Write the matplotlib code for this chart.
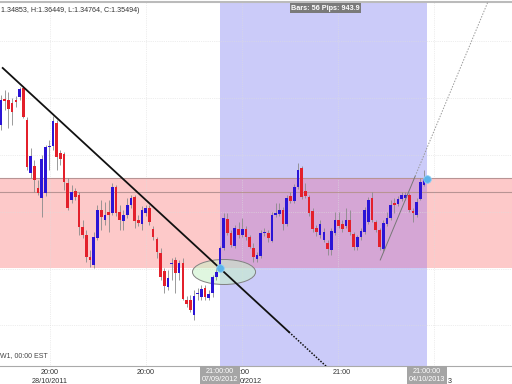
import numpy as np
import matplotlib
matplotlib.use("Agg")
import matplotlib.pyplot as plt
from matplotlib.patches import Ellipse
import matplotlib.transforms as mtransforms

# weekly EURUSD candles (open, high, low, close)
opens = [1.4117, 1.4391, 1.4381, 1.4349, 1.4381, 1.4412, 1.4507, 1.4169, 1.3610, 1.3684,
         1.3451, 1.3346, 1.3398, 1.3884, 1.3895, 1.4138, 1.3821, 1.3810, 1.3504, 1.3324,
         1.3420, 1.3377, 1.3039, 1.2955, 1.2722, 1.2638, 1.2923, 1.3219, 1.3113, 1.3198,
         1.3187, 1.3462, 1.3198, 1.3103, 1.3166, 1.3272, 1.3356, 1.3113, 1.3071, 1.3187,
         1.3240, 1.3018, 1.2912, 1.2765, 1.2574, 1.2405, 1.2648, 1.2691, 1.2553, 1.2659,
         1.2268, 1.2268, 1.2110, 1.2331, 1.2300, 1.2395, 1.2289, 1.2342, 1.2511, 1.2606,
         1.2817, 1.3124, 1.2976, 1.2839, 1.3018, 1.2955, 1.3018, 1.2934, 1.2817, 1.2701,
         1.2733, 1.2976, 1.2976, 1.2891, 1.3166, 1.3177, 1.3219, 1.3071, 1.3367, 1.3314,
         1.3462, 1.3662, 1.3420, 1.3356, 1.3208, 1.3029, 1.2955, 1.2902, 1.2870, 1.2796,
         1.2976, 1.3113, 1.3071, 1.3050, 1.3113, 1.2965, 1.2828, 1.2934, 1.2986, 1.3092,
         1.3346, 1.3092, 1.3008, 1.2807, 1.3071, 1.3134, 1.3293, 1.3282, 1.3335, 1.3346,
         1.3377, 1.3208, 1.3166, 1.3335, 1.34853]
highs = [1.4434, 1.4486, 1.4465, 1.4402, 1.4423, 1.4518, 1.4529, 1.4201, 1.3874, 1.3747,
         1.3536, 1.3800, 1.3905, 1.3958, 1.4212, 1.4169, 1.3853, 1.3831, 1.3557, 1.3483,
         1.3451, 1.3409, 1.3113, 1.3008, 1.2796, 1.2986, 1.3272, 1.3324, 1.3303, 1.3324,
         1.3504, 1.3483, 1.3272, 1.3219, 1.3346, 1.3377, 1.3377, 1.3166, 1.3261, 1.3272,
         1.3272, 1.3050, 1.2934, 1.2817, 1.2606, 1.2585, 1.2712, 1.2722, 1.2691, 1.2712,
         1.2310, 1.2321, 1.2374, 1.2395, 1.2427, 1.2427, 1.2374, 1.2532, 1.2606, 1.2839,
         1.3187, 1.3187, 1.3008, 1.3060, 1.3092, 1.3134, 1.3050, 1.2955, 1.2870, 1.2775,
         1.3008, 1.3029, 1.3008, 1.3198, 1.3293, 1.3293, 1.3250, 1.3377, 1.3409, 1.3493,
         1.3715, 1.3684, 1.3504, 1.3377, 1.3240, 1.3060, 1.3113, 1.3029, 1.2902, 1.3029,
         1.3198, 1.3198, 1.3113, 1.3240, 1.3219, 1.2986, 1.2955, 1.3029, 1.3250, 1.3356,
         1.3409, 1.3113, 1.3029, 1.3113, 1.3198, 1.3324, 1.3346, 1.3367, 1.3409, 1.3409,
         1.3398, 1.3240, 1.3346, 1.3557, 1.36449]
lows = [1.4064, 1.4275, 1.4085, 1.4117, 1.4307, 1.4381, 1.4191, 1.3641, 1.3557, 1.3409,
        1.3377, 1.3145, 1.3367, 1.3641, 1.3853, 1.3641, 1.3694, 1.3430, 1.3219, 1.3293,
        1.3324, 1.2955, 1.2923, 1.2669, 1.2617, 1.2606, 1.2902, 1.3008, 1.3060, 1.2986,
        1.3166, 1.3155, 1.3008, 1.3008, 1.3134, 1.3240, 1.3029, 1.3050, 1.3008, 1.3155,
        1.3060, 1.2902, 1.2712, 1.2479, 1.2342, 1.2374, 1.2479, 1.2342, 1.2479, 1.2268,
        1.2194, 1.2141, 1.2057, 1.2268, 1.2268, 1.2268, 1.2268, 1.2300, 1.2479, 1.2585,
        1.2796, 1.2955, 1.2828, 1.2817, 1.2923, 1.2934, 1.2902, 1.2817, 1.2669, 1.2669,
        1.2712, 1.2944, 1.2881, 1.2881, 1.3145, 1.3155, 1.3008, 1.3050, 1.3293, 1.3293,
        1.3441, 1.3335, 1.3346, 1.3155, 1.2986, 1.2944, 1.2923, 1.2881, 1.2743, 1.2743,
        1.2955, 1.3029, 1.2986, 1.3029, 1.2955, 1.2796, 1.2796, 1.2902, 1.2965, 1.3071,
        1.3092, 1.2986, 1.2796, 1.2786, 1.3050, 1.3113, 1.3187, 1.3261, 1.3314, 1.3324,
        1.3198, 1.3092, 1.3145, 1.3324, 1.34764]
closes = [1.4381, 1.4370, 1.4286, 1.4254, 1.4360, 1.4497, 1.4201, 1.3673, 1.3789, 1.3536,
          1.3398, 1.3757, 1.3884, 1.3895, 1.4159, 1.3779, 1.3757, 1.3515, 1.3240, 1.3409,
          1.3356, 1.3039, 1.2955, 1.2722, 1.2691, 1.2934, 1.3219, 1.3145, 1.3166, 1.3166,
          1.3462, 1.3187, 1.3113, 1.3166, 1.3272, 1.3346, 1.3103, 1.3081, 1.3219, 1.3240,
          1.3092, 1.2934, 1.2775, 1.2511, 1.2416, 1.2500, 1.2659, 1.2553, 1.2659, 1.2279,
          1.2226, 1.2163, 1.2310, 1.2342, 1.2384, 1.2300, 1.2331, 1.2511, 1.2564, 1.2817,
          1.3134, 1.2976, 1.2849, 1.3029, 1.2955, 1.3018, 1.2934, 1.2828, 1.2722, 1.2743,
          1.2976, 1.2986, 1.2923, 1.3166, 1.3187, 1.3219, 1.3071, 1.3346, 1.3314, 1.3462,
          1.3641, 1.3356, 1.3367, 1.3187, 1.3018, 1.2986, 1.3071, 1.2986, 1.2807, 1.2997,
          1.3113, 1.3050, 1.3018, 1.3113, 1.2986, 1.2828, 1.2934, 1.2997, 1.3219, 1.3324,
          1.3113, 1.3008, 1.2828, 1.3081, 1.3134, 1.3272, 1.3272, 1.3335, 1.3377, 1.3377,
          1.3219, 1.3187, 1.3303, 1.3515, 1.35494]

# drawings on the chart
band_top, band_bottom = 1.3557, 1.2606
level_line = 1.3409
region_start, region_end = 59, 114.8
trend_x = [0.46, 77.6, 88.7]
trend_y = [1.4719, 1.1930, 1.1529]
ray_x = [102.2, 111.6, 131.8]
ray_y = [1.2691, 1.3575, 1.5473]
ellipse_center = (60.1, 1.2564)
ellipse_w, ellipse_h = 17, 0.0264

grid_prices = [1.50, 1.44, 1.38, 1.32, 1.26, 1.20]
grid_pos = [13.2, 39.1, 65.0, 90.8, 116.7]
tick_pos = [13.2, 39.1, 91.9]
tick_labels = ["20:00\n28/10/2011", "20:00", "21:00"]
# label parts that show beside the gray time boxes
peek_pos = [region_start + 5.3, region_end + 5.6]
peek_labels = [":00\n0/2012", "\n3"]

header = "1.34853, H:1.36449, L:1.34764, C:1.35494)"

fig = plt.figure(figsize=(5.12, 3.84), dpi=100)
ax = fig.add_axes([0, 0.0469, 1, 0.9479])
ax.set_xlim(-0.27, 137.7)
ax.set_ylim(1.1571, 1.5416)

# background zones
ax.axhspan(band_bottom, band_top, color="#fdc9c9", lw=0, zorder=0)
ax.axvspan(region_start, region_end, color="#cbcbf9", lw=0, zorder=0)
ax.fill_between([region_start, region_end], band_bottom, band_top, color="#d5a6d5", lw=0, zorder=0.5)
ax.axhline(band_top, color="#b89494", lw=0.8, zorder=1)
ax.axhline(level_line, color="#b89494", lw=0.8, zorder=1)

for p in grid_prices:
    ax.axhline(p, color="#dddddd", lw=0.5, ls=":", zorder=0.8)
for t in grid_pos:
    ax.axvline(t, color="#dddddd", lw=0.5, ls=":", zorder=0.8)

el = Ellipse(ellipse_center, ellipse_w, ellipse_h, facecolor=(0.78, 0.95, 0.78, 0.55),
             edgecolor="#808080", lw=0.7, zorder=1.5)
ax.add_patch(el)

# candles
x = np.arange(len(opens))
o = np.array(opens); h = np.array(highs); l = np.array(lows); c = np.array(closes)
up = c >= o
cols = np.where(up, "#2b14d6", "#e3202b")
ax.vlines(x, l, h, color="#8a8a8a", lw=0.6, zorder=2)
body = np.maximum(np.abs(c - o), 0.0007)
ax.bar(x, body, bottom=np.minimum(o, c), width=0.72, color=cols, lw=0, zorder=3)

# trend lines
ax.plot(trend_x[:2], trend_y[:2], color="#111111", lw=1.3, zorder=4)
ax.plot(trend_x[1:], trend_y[1:], color="#111111", lw=1.1, ls=(0, (1, 1)), zorder=4)
ax.plot(ray_x[:2], ray_y[:2], color="#777777", lw=0.7, zorder=4)
ax.plot(ray_x[1:], ray_y[1:], color="#999999", lw=0.7, ls=(0, (1.5, 1.5)), zorder=4)

ax.scatter([region_start, region_end], [band_bottom, closes[-1]], s=30, color="#5ab4ea",
           edgecolor="#8fd0f5", lw=0.6, zorder=5)

# axes styling
for s in ["left", "right"]:
    ax.spines[s].set_visible(False)
ax.spines["bottom"].set_color("#aaaaaa")
ax.spines["top"].set_color("#bbbbbb")
ax.spines["top"].set_linewidth(1.5)
ax.set_yticks([])
ax.set_xticks(tick_pos)
ax.set_xticklabels(tick_labels, fontsize=5.2, color="#333333", linespacing=1.35,
                   family="Liberation Sans")
ax.tick_params(axis="x", length=0, pad=2)

trans = mtransforms.blended_transform_factory(ax.transData, ax.transAxes)
for xp, lab in zip(peek_pos, peek_labels):
    ax.text(xp, -0.008, lab, transform=trans, ha="left", va="top", fontsize=5.2,
            color="#333333", linespacing=1.35, family="Liberation Sans", clip_on=False)

box = dict(boxstyle="square,pad=0.25", facecolor="#a5a5a5", edgecolor="none")
for xp, lab in [(region_start, "21:00:00\n07/09/2012"), (region_end, "21:00:00\n04/10/2013")]:
    ax.text(xp, -0.005, lab, transform=trans, ha="center", va="top", fontsize=5.2,
            color="white", bbox=box, clip_on=False, zorder=10, linespacing=1.3,
            family="Liberation Sans")

ax.text((region_start + region_end) / 2 + 0.5, 0.993, "Bars: 56 Pips: 943.9", transform=trans,
        ha="center", va="top", fontsize=5.2, color="white", weight="bold",
        family="Liberation Sans",
        bbox=dict(boxstyle="square,pad=0.2", facecolor="#7a7a7a", edgecolor="none"), zorder=10)

ax.text(0.001, 0.985, header, transform=ax.transAxes, ha="left", va="top", fontsize=5.1,
        color="#333333", family="Liberation Sans", zorder=10)
ax.text(0.0, 0.018, "W1, 00:00 EST", transform=ax.transAxes, ha="left", va="bottom",
        fontsize=5, color="#444444", family="Liberation Sans", zorder=10)

fig.savefig("out.png", dpi=100)
